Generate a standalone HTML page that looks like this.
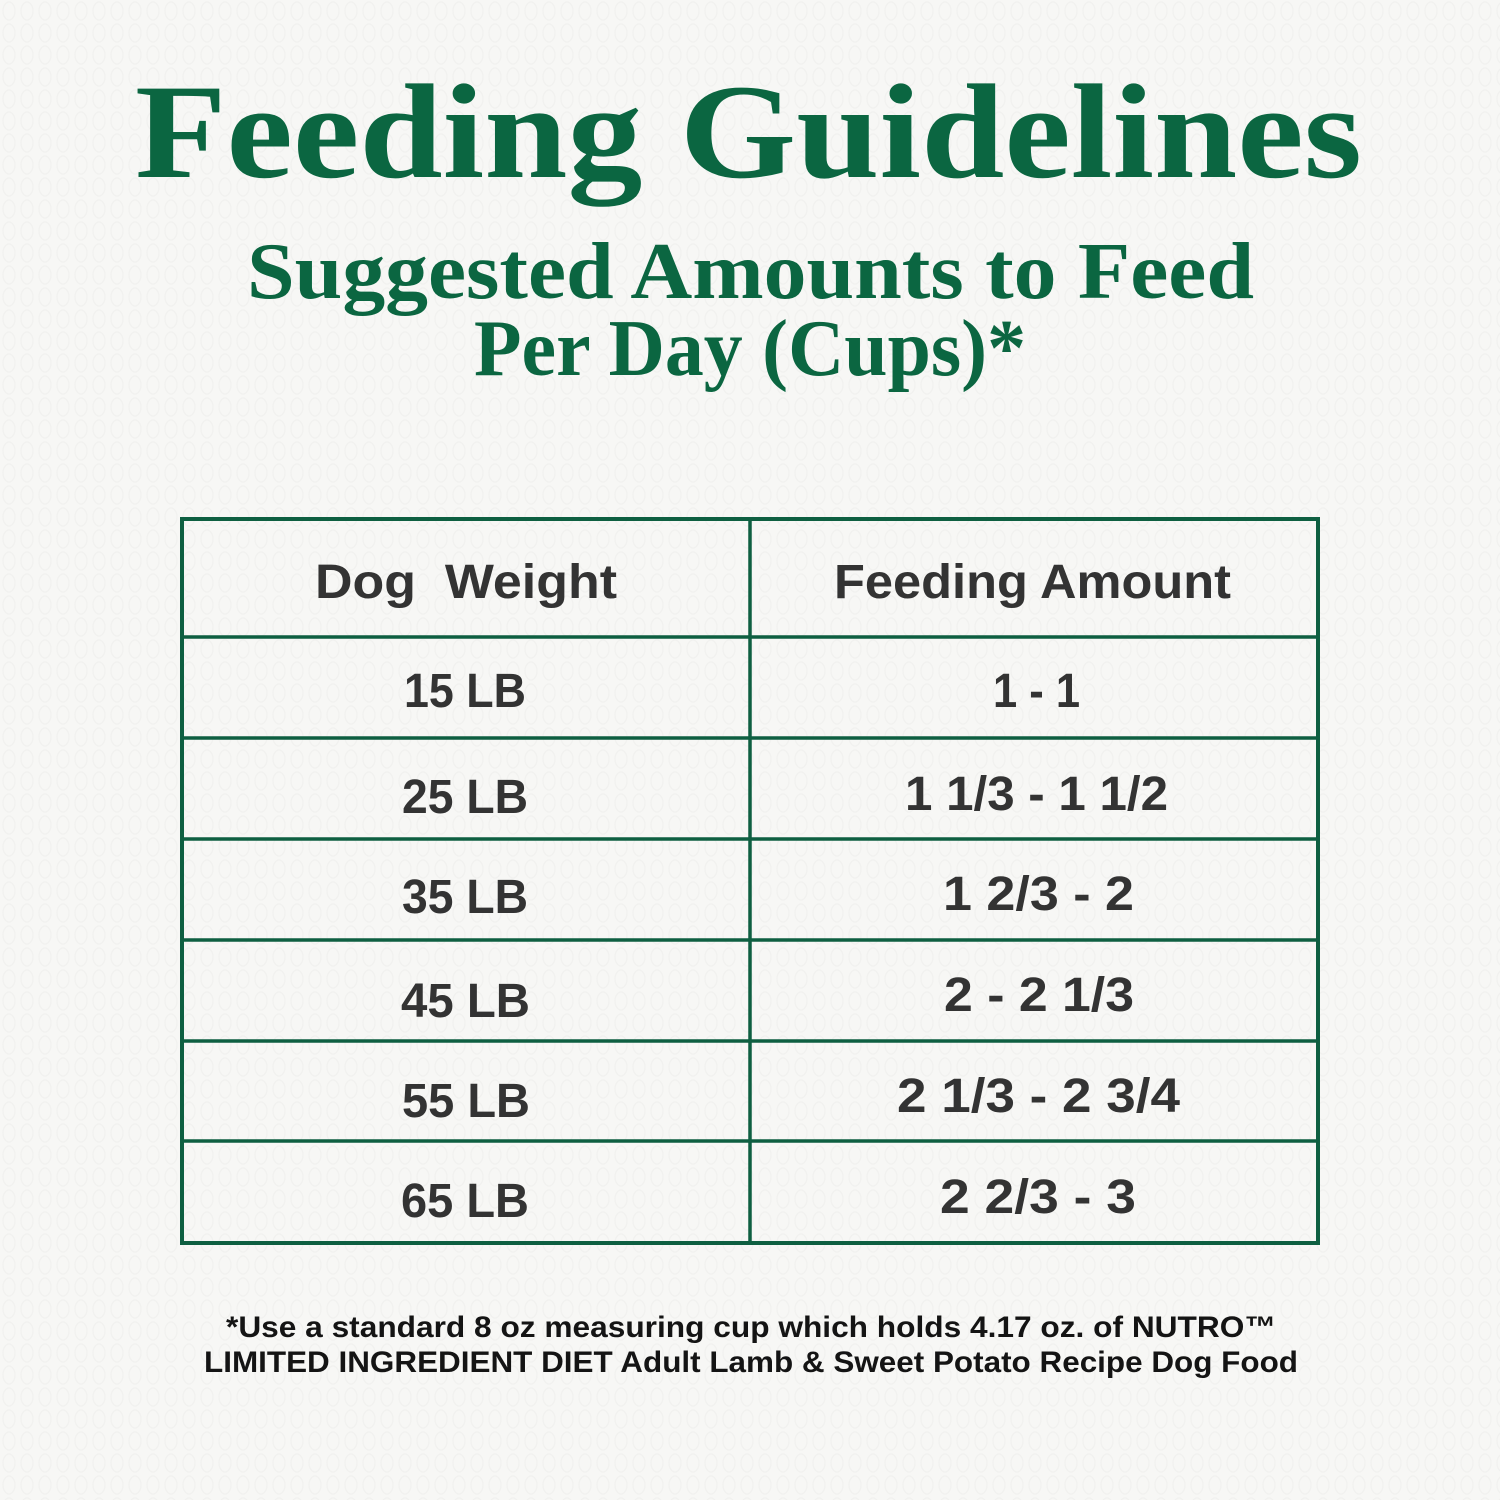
<!DOCTYPE html>
<html>
<head>
<meta charset="utf-8">
<style>
  html, body { margin:0; padding:0; background:#f6f6f4; }
  body { width:1500px; height:1500px; overflow:hidden; }
  svg { display:block; }
  .serif { font-family:"Liberation Serif", serif; font-weight:bold; fill:#0b6641; }
  .sans { font-family:"Liberation Sans", sans-serif; font-weight:bold; fill:#333333; }
  .foot { font-family:"Liberation Sans", sans-serif; font-weight:bold; fill:#141414; }
  .pre { white-space: pre; }
</style>
</head>
<body>
<svg width="1500" height="1500" viewBox="0 0 1500 1500" xmlns="http://www.w3.org/2000/svg">
  <defs>
    <pattern id="tex" width="18" height="22" patternUnits="userSpaceOnUse">
      <rect width="18" height="22" fill="#f7f7f5"/>
      <ellipse cx="9" cy="11" rx="6" ry="9" fill="none" stroke="#f1f1ef" stroke-width="1.2"/>
    </pattern>
  </defs>
  <rect x="0" y="0" width="1500" height="1500" fill="url(#tex)"/>

  <!-- Titles -->
  <text class="serif" x="135" y="177" font-size="135" textLength="1227" lengthAdjust="spacingAndGlyphs">Feeding Guidelines</text>
  <text class="serif" x="247" y="298" font-size="80" textLength="1007" lengthAdjust="spacingAndGlyphs">Suggested Amounts to Feed</text>
  <text class="serif" x="474" y="375" font-size="80" textLength="552" lengthAdjust="spacingAndGlyphs">Per Day (Cups)*</text>

  <!-- Table -->
  <g stroke="#0e5f41" fill="none">
    <rect x="182" y="519" width="1136" height="724" stroke-width="4"/>
    <line x1="750" y1="519" x2="750" y2="1243" stroke-width="3.5"/>
    <line x1="182" y1="637" x2="1318" y2="637" stroke-width="3.5"/>
    <line x1="182" y1="738" x2="1318" y2="738" stroke-width="3.5"/>
    <line x1="182" y1="839" x2="1318" y2="839" stroke-width="3.5"/>
    <line x1="182" y1="940" x2="1318" y2="940" stroke-width="3.5"/>
    <line x1="182" y1="1041" x2="1318" y2="1041" stroke-width="3.5"/>
    <line x1="182" y1="1141" x2="1318" y2="1141" stroke-width="3.5"/>
  </g>

  <!-- Header -->
  <text class="sans pre" x="315" y="598" font-size="48" textLength="302" lengthAdjust="spacingAndGlyphs">Dog  Weight</text>
  <text class="sans" x="834" y="598" font-size="48" textLength="397" lengthAdjust="spacingAndGlyphs">Feeding Amount</text>

  <!-- Column 1 -->
  <text class="sans" x="404" y="707" font-size="48" textLength="122" lengthAdjust="spacingAndGlyphs">15 LB</text>
  <text class="sans" x="402" y="813" font-size="48" textLength="126" lengthAdjust="spacingAndGlyphs">25 LB</text>
  <text class="sans" x="402" y="913" font-size="48" textLength="126" lengthAdjust="spacingAndGlyphs">35 LB</text>
  <text class="sans" x="401" y="1017" font-size="48" textLength="129" lengthAdjust="spacingAndGlyphs">45 LB</text>
  <text class="sans" x="402" y="1117" font-size="48" textLength="128" lengthAdjust="spacingAndGlyphs">55 LB</text>
  <text class="sans" x="401" y="1217" font-size="48" textLength="128" lengthAdjust="spacingAndGlyphs">65 LB</text>

  <!-- Column 2 -->
  <text class="sans" x="993" y="707" font-size="48" textLength="87" lengthAdjust="spacingAndGlyphs">1 - 1</text>
  <text class="sans" x="905" y="810" font-size="48" textLength="263" lengthAdjust="spacingAndGlyphs">1 1/3 - 1 1/2</text>
  <text class="sans" x="943" y="910" font-size="48" textLength="191" lengthAdjust="spacingAndGlyphs">1 2/3 - 2</text>
  <text class="sans" x="944" y="1011" font-size="48" textLength="190" lengthAdjust="spacingAndGlyphs">2 - 2 1/3</text>
  <text class="sans" x="897" y="1112" font-size="48" textLength="283" lengthAdjust="spacingAndGlyphs">2 1/3 - 2 3/4</text>
  <text class="sans" x="940" y="1213" font-size="48" textLength="196" lengthAdjust="spacingAndGlyphs">2 2/3 - 3</text>

  <!-- Footnote -->
  <text class="foot" x="226" y="1337" font-size="30" textLength="1050" lengthAdjust="spacingAndGlyphs">*Use a standard 8 oz measuring cup which holds 4.17 oz. of NUTRO™</text>
  <text class="foot" x="204" y="1372" font-size="30" textLength="1094" lengthAdjust="spacingAndGlyphs">LIMITED INGREDIENT DIET Adult Lamb &amp; Sweet Potato Recipe Dog Food</text>
</svg>
</body>
</html>
